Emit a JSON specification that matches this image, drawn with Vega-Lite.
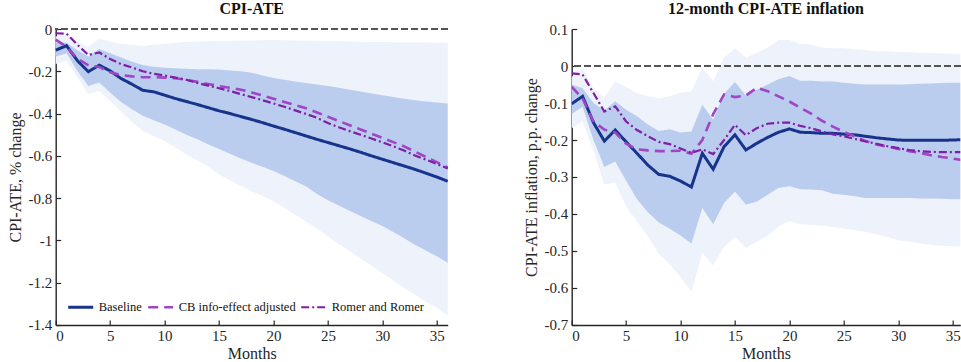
{
  "$schema": "https://vega.github.io/schema/vega-lite/v6.json",
  "background": "white",
  "padding": {"left": 7.7, "top": 1, "right": 0, "bottom": 0},
  "spacing": 70,
  "config": {
    "view": {"stroke": null},
    "font": "Liberation Serif",
    "title": {"font": "Liberation Serif", "fontSize": 16, "fontWeight": "bold", "color": "#111111", "offset": 5},
    "axis": {
      "grid": false,
      "domainColor": "#262626", "domainWidth": 1.4,
      "tickColor": "#262626", "tickWidth": 1.2, "tickSize": -5,
      "labelFont": "Liberation Serif", "labelFontSize": 15, "labelColor": "#262626", "labelPadding": 9, "labelOverlap": false,
      "titleFont": "Liberation Serif", "titleFontSize": 16, "titleFontWeight": "normal", "titleColor": "#262626"
    }
  },
  "resolve": {"scale": {"color": "independent", "strokeDash": "independent", "strokeWidth": "independent"}},
  "datasets": {
    "left": [
      {"m":0,"base":-0.10,"cb":-0.05,"rr":-0.02,"lo68":-0.13,"hi68":-0.06,"lo90":-0.165,"hi90":-0.035},
      {"m":1,"base":-0.079,"cb":-0.085,"rr":-0.022,"lo68":-0.115,"hi68":-0.065,"lo90":-0.15,"hi90":-0.03},
      {"m":2,"base":-0.15,"cb":-0.14,"rr":-0.075,"lo68":-0.2,"hi68":-0.1,"lo90":-0.23,"hi90":-0.06},
      {"m":3,"base":-0.202,"cb":-0.172,"rr":-0.123,"lo68":-0.27,"hi68":-0.13,"lo90":-0.308,"hi90":-0.085},
      {"m":4,"base":-0.171,"cb":-0.18,"rr":-0.111,"lo68":-0.253,"hi68":-0.095,"lo90":-0.293,"hi90":-0.045},
      {"m":5,"base":-0.198,"cb":-0.205,"rr":-0.142,"lo68":-0.3,"hi68":-0.115,"lo90":-0.34,"hi90":-0.06},
      {"m":6,"base":-0.234,"cb":-0.218,"rr":-0.166,"lo68":-0.345,"hi68":-0.135,"lo90":-0.39,"hi90":-0.07},
      {"m":7,"base":-0.261,"cb":-0.224,"rr":-0.182,"lo68":-0.38,"hi68":-0.155,"lo90":-0.44,"hi90":-0.075},
      {"m":8,"base":-0.29,"cb":-0.228,"rr":-0.2,"lo68":-0.41,"hi68":-0.17,"lo90":-0.483,"hi90":-0.08},
      {"m":9,"base":-0.297,"cb":-0.228,"rr":-0.212,"lo68":-0.432,"hi68":-0.178,"lo90":-0.507,"hi90":-0.075},
      {"m":10,"base":-0.313,"cb":-0.23,"rr":-0.22,"lo68":-0.452,"hi68":-0.183,"lo90":-0.53,"hi90":-0.07},
      {"m":11,"base":-0.329,"cb":-0.233,"rr":-0.23,"lo68":-0.475,"hi68":-0.186,"lo90":-0.56,"hi90":-0.065},
      {"m":12,"base":-0.343,"cb":-0.24,"rr":-0.24,"lo68":-0.5,"hi68":-0.188,"lo90":-0.595,"hi90":-0.062},
      {"m":13,"base":-0.357,"cb":-0.25,"rr":-0.255,"lo68":-0.522,"hi68":-0.19,"lo90":-0.622,"hi90":-0.06},
      {"m":14,"base":-0.372,"cb":-0.26,"rr":-0.268,"lo68":-0.545,"hi68":-0.19,"lo90":-0.65,"hi90":-0.058},
      {"m":15,"base":-0.387,"cb":-0.27,"rr":-0.28,"lo68":-0.567,"hi68":-0.192,"lo90":-0.688,"hi90":-0.057},
      {"m":16,"base":-0.4,"cb":-0.278,"rr":-0.293,"lo68":-0.59,"hi68":-0.196,"lo90":-0.715,"hi90":-0.056},
      {"m":17,"base":-0.414,"cb":-0.287,"rr":-0.308,"lo68":-0.612,"hi68":-0.2,"lo90":-0.742,"hi90":-0.055},
      {"m":18,"base":-0.428,"cb":-0.3,"rr":-0.322,"lo68":-0.633,"hi68":-0.207,"lo90":-0.767,"hi90":-0.054},
      {"m":19,"base":-0.443,"cb":-0.315,"rr":-0.337,"lo68":-0.652,"hi68":-0.22,"lo90":-0.79,"hi90":-0.053},
      {"m":20,"base":-0.459,"cb":-0.33,"rr":-0.352,"lo68":-0.672,"hi68":-0.232,"lo90":-0.815,"hi90":-0.052},
      {"m":21,"base":-0.474,"cb":-0.345,"rr":-0.368,"lo68":-0.695,"hi68":-0.24,"lo90":-0.845,"hi90":-0.053},
      {"m":22,"base":-0.49,"cb":-0.36,"rr":-0.385,"lo68":-0.72,"hi68":-0.248,"lo90":-0.878,"hi90":-0.054},
      {"m":23,"base":-0.506,"cb":-0.375,"rr":-0.402,"lo68":-0.745,"hi68":-0.255,"lo90":-0.91,"hi90":-0.055},
      {"m":24,"base":-0.522,"cb":-0.395,"rr":-0.42,"lo68":-0.78,"hi68":-0.262,"lo90":-0.945,"hi90":-0.056},
      {"m":25,"base":-0.537,"cb":-0.415,"rr":-0.445,"lo68":-0.81,"hi68":-0.27,"lo90":-0.98,"hi90":-0.057},
      {"m":26,"base":-0.552,"cb":-0.435,"rr":-0.465,"lo68":-0.835,"hi68":-0.278,"lo90":-1.018,"hi90":-0.058},
      {"m":27,"base":-0.567,"cb":-0.455,"rr":-0.483,"lo68":-0.86,"hi68":-0.287,"lo90":-1.05,"hi90":-0.059},
      {"m":28,"base":-0.583,"cb":-0.475,"rr":-0.5,"lo68":-0.884,"hi68":-0.296,"lo90":-1.085,"hi90":-0.06},
      {"m":29,"base":-0.6,"cb":-0.495,"rr":-0.518,"lo68":-0.908,"hi68":-0.305,"lo90":-1.12,"hi90":-0.061},
      {"m":30,"base":-0.616,"cb":-0.515,"rr":-0.536,"lo68":-0.932,"hi68":-0.313,"lo90":-1.155,"hi90":-0.062},
      {"m":31,"base":-0.632,"cb":-0.535,"rr":-0.555,"lo68":-0.96,"hi68":-0.322,"lo90":-1.19,"hi90":-0.063},
      {"m":32,"base":-0.648,"cb":-0.555,"rr":-0.575,"lo68":-0.99,"hi68":-0.33,"lo90":-1.225,"hi90":-0.063},
      {"m":33,"base":-0.664,"cb":-0.58,"rr":-0.598,"lo68":-1.02,"hi68":-0.337,"lo90":-1.258,"hi90":-0.064},
      {"m":34,"base":-0.682,"cb":-0.605,"rr":-0.618,"lo68":-1.048,"hi68":-0.343,"lo90":-1.29,"hi90":-0.064},
      {"m":35,"base":-0.7,"cb":-0.63,"rr":-0.638,"lo68":-1.075,"hi68":-0.348,"lo90":-1.32,"hi90":-0.065},
      {"m":36,"base":-0.72,"cb":-0.655,"rr":-0.66,"lo68":-1.105,"hi68":-0.352,"lo90":-1.355,"hi90":-0.065}
    ],
    "right": [
      {"m":0,"base":-0.102,"cb":-0.056,"rr":-0.02,"lo68":-0.13,"hi68":-0.05,"lo90":-0.168,"hi90":-0.03},
      {"m":1,"base":-0.082,"cb":-0.088,"rr":-0.023,"lo68":-0.11,"hi68":-0.06,"lo90":-0.15,"hi90":-0.005},
      {"m":2,"base":-0.153,"cb":-0.15,"rr":-0.073,"lo68":-0.2,"hi68":-0.1,"lo90":-0.23,"hi90":-0.06},
      {"m":3,"base":-0.203,"cb":-0.172,"rr":-0.123,"lo68":-0.273,"hi68":-0.12,"lo90":-0.32,"hi90":-0.085},
      {"m":4,"base":-0.173,"cb":-0.18,"rr":-0.109,"lo68":-0.258,"hi68":-0.095,"lo90":-0.315,"hi90":-0.042},
      {"m":5,"base":-0.205,"cb":-0.21,"rr":-0.15,"lo68":-0.31,"hi68":-0.118,"lo90":-0.38,"hi90":-0.057},
      {"m":6,"base":-0.236,"cb":-0.225,"rr":-0.173,"lo68":-0.36,"hi68":-0.136,"lo90":-0.42,"hi90":-0.073},
      {"m":7,"base":-0.268,"cb":-0.228,"rr":-0.19,"lo68":-0.395,"hi68":-0.158,"lo90":-0.46,"hi90":-0.082},
      {"m":8,"base":-0.293,"cb":-0.23,"rr":-0.205,"lo68":-0.423,"hi68":-0.176,"lo90":-0.508,"hi90":-0.088},
      {"m":9,"base":-0.298,"cb":-0.23,"rr":-0.211,"lo68":-0.44,"hi68":-0.171,"lo90":-0.535,"hi90":-0.082},
      {"m":10,"base":-0.311,"cb":-0.229,"rr":-0.223,"lo68":-0.458,"hi68":-0.18,"lo90":-0.571,"hi90":-0.072},
      {"m":11,"base":-0.327,"cb":-0.237,"rr":-0.235,"lo68":-0.48,"hi68":-0.177,"lo90":-0.61,"hi90":-0.068},
      {"m":12,"base":-0.236,"cb":-0.2,"rr":-0.225,"lo68":-0.384,"hi68":-0.105,"lo90":-0.505,"hi90":-0.004},
      {"m":13,"base":-0.279,"cb":-0.13,"rr":-0.238,"lo68":-0.428,"hi68":-0.145,"lo90":-0.539,"hi90":-0.041},
      {"m":14,"base":-0.218,"cb":-0.077,"rr":-0.2,"lo68":-0.37,"hi68":-0.075,"lo90":-0.489,"hi90":0.023},
      {"m":15,"base":-0.186,"cb":-0.084,"rr":-0.159,"lo68":-0.339,"hi68":-0.043,"lo90":-0.462,"hi90":0.048},
      {"m":16,"base":-0.227,"cb":-0.08,"rr":-0.187,"lo68":-0.374,"hi68":-0.08,"lo90":-0.492,"hi90":0.023},
      {"m":17,"base":-0.209,"cb":-0.059,"rr":-0.168,"lo68":-0.367,"hi68":-0.064,"lo90":-0.475,"hi90":0.035},
      {"m":18,"base":-0.193,"cb":-0.068,"rr":-0.156,"lo68":-0.348,"hi68":-0.05,"lo90":-0.459,"hi90":0.05},
      {"m":19,"base":-0.179,"cb":-0.082,"rr":-0.153,"lo68":-0.33,"hi68":-0.036,"lo90":-0.434,"hi90":0.07},
      {"m":20,"base":-0.17,"cb":-0.096,"rr":-0.153,"lo68":-0.325,"hi68":-0.027,"lo90":-0.419,"hi90":0.07},
      {"m":21,"base":-0.179,"cb":-0.113,"rr":-0.162,"lo68":-0.333,"hi68":-0.04,"lo90":-0.428,"hi90":0.06},
      {"m":22,"base":-0.18,"cb":-0.129,"rr":-0.168,"lo68":-0.334,"hi68":-0.04,"lo90":-0.43,"hi90":0.058},
      {"m":23,"base":-0.182,"cb":-0.148,"rr":-0.177,"lo68":-0.336,"hi68":-0.042,"lo90":-0.432,"hi90":0.05},
      {"m":24,"base":-0.182,"cb":-0.164,"rr":-0.185,"lo68":-0.345,"hi68":-0.042,"lo90":-0.435,"hi90":0.048},
      {"m":25,"base":-0.184,"cb":-0.178,"rr":-0.19,"lo68":-0.348,"hi68":-0.045,"lo90":-0.439,"hi90":0.048},
      {"m":26,"base":-0.186,"cb":-0.19,"rr":-0.197,"lo68":-0.352,"hi68":-0.048,"lo90":-0.443,"hi90":0.045},
      {"m":27,"base":-0.19,"cb":-0.203,"rr":-0.204,"lo68":-0.357,"hi68":-0.05,"lo90":-0.448,"hi90":0.043},
      {"m":28,"base":-0.194,"cb":-0.212,"rr":-0.21,"lo68":-0.357,"hi68":-0.05,"lo90":-0.455,"hi90":0.04},
      {"m":29,"base":-0.197,"cb":-0.218,"rr":-0.217,"lo68":-0.357,"hi68":-0.05,"lo90":-0.462,"hi90":0.04},
      {"m":30,"base":-0.2,"cb":-0.224,"rr":-0.222,"lo68":-0.357,"hi68":-0.05,"lo90":-0.471,"hi90":0.038},
      {"m":31,"base":-0.201,"cb":-0.23,"rr":-0.227,"lo68":-0.357,"hi68":-0.049,"lo90":-0.475,"hi90":0.037},
      {"m":32,"base":-0.201,"cb":-0.235,"rr":-0.23,"lo68":-0.358,"hi68":-0.048,"lo90":-0.479,"hi90":0.036},
      {"m":33,"base":-0.201,"cb":-0.241,"rr":-0.232,"lo68":-0.358,"hi68":-0.047,"lo90":-0.484,"hi90":0.035},
      {"m":34,"base":-0.201,"cb":-0.246,"rr":-0.233,"lo68":-0.359,"hi68":-0.046,"lo90":-0.486,"hi90":0.034},
      {"m":35,"base":-0.2,"cb":-0.25,"rr":-0.233,"lo68":-0.36,"hi68":-0.045,"lo90":-0.487,"hi90":0.033},
      {"m":36,"base":-0.199,"cb":-0.255,"rr":-0.233,"lo68":-0.36,"hi68":-0.045,"lo90":-0.488,"hi90":0.032}
    ]
  },
  "hconcat": [
    {
      "width": 392, "height": 296,
      "title": {"text": "CPI-ATE"},
      "data": {"name": "left"},
      "layer": [
        {
          "mark": {"type": "area", "color": "#edf2fb", "opacity": 1},
          "encoding": {
            "x": {"field": "m", "type": "quantitative", "scale": {"domain": [0, 36], "nice": false},
                  "axis": {"title": "Months", "values": [0,5,10,15,20,25,30,35], "tickCount": 10, "labelAngle": 0, "titlePadding": 2}},
            "y": {"field": "lo90", "type": "quantitative", "scale": {"domain": [-1.4, 0], "nice": false},
                  "axis": {"title": "CPI-ATE, % change", "values": [-1.4,-1.2,-1,-0.8,-0.6,-0.4,-0.2,0], "tickCount": 10, "labelExpr": "'' + datum.value", "labelOverlap": false, "titlePadding": 4}},
            "y2": {"field": "hi90"}
          }
        },
        {
          "mark": {"type": "area", "color": "#bacdee", "opacity": 1},
          "encoding": {
            "x": {"field": "m", "type": "quantitative"},
            "y": {"field": "lo68", "type": "quantitative"},
            "y2": {"field": "hi68"}
          }
        },
        {
          "mark": {"type": "rule", "color": "#555555", "strokeDash": [6, 4], "strokeWidth": 1.5},
          "encoding": {"y": {"datum": 0}}
        },
        {
          "transform": [{"fold": ["base", "cb", "rr"], "as": ["s", "v"]}],
          "mark": {"type": "line"},
          "encoding": {
            "x": {"field": "m", "type": "quantitative"},
            "y": {"field": "v", "type": "quantitative"},
            "color": {"field": "s", "type": "nominal",
              "scale": {"domain": ["base", "cb", "rr"], "range": ["#17338c", "#a046c4", "#7e1fa6"]},
              "legend": {"title": null, "orient": "bottom-left", "direction": "horizontal", "offset": 11, "padding": 0,
                "symbolType": "stroke", "symbolSize": 625, "symbolStrokeWidth": 2.5,
                "labelFont": "Liberation Serif", "labelFontSize": 12.5, "labelColor": "#111111", "labelOffset": 4, "columnPadding": 0,
                "labelExpr": "datum.label == 'base' ? 'Baseline' : datum.label == 'cb' ? 'CB info-effect adjusted' : 'Romer and Romer'"}},
            "strokeDash": {"field": "s", "type": "nominal",
              "scale": {"domain": ["base", "cb", "rr"], "range": [[1, 0], [10, 6], [8, 3, 2, 3]]}},
            "strokeWidth": {"field": "s", "type": "nominal",
              "scale": {"domain": ["base", "cb", "rr"], "range": [3, 2.2, 2.2]}}
          }
        }
      ]
    },
    {
      "width": 388.6, "height": 296,
      "title": {"text": "12-month CPI-ATE inflation"},
      "data": {"name": "right"},
      "layer": [
        {
          "mark": {"type": "area", "color": "#edf2fb", "opacity": 1, "clip": true},
          "encoding": {
            "x": {"field": "m", "type": "quantitative", "scale": {"domain": [0, 35.7], "nice": false},
                  "axis": {"title": "Months", "values": [0,5,10,15,20,25,30,35], "tickCount": 10, "labelAngle": 0, "titlePadding": 2}},
            "y": {"field": "lo90", "type": "quantitative", "scale": {"domain": [-0.7, 0.1], "nice": false},
                  "axis": {"title": "CPI-ATE inflation, p.p. change", "values": [-0.7,-0.6,-0.5,-0.4,-0.3,-0.2,-0.1,0,0.1], "tickCount": 12, "labelExpr": "'' + datum.value", "labelOverlap": false, "titlePadding": 4}},
            "y2": {"field": "hi90"}
          }
        },
        {
          "mark": {"type": "area", "color": "#bacdee", "opacity": 1, "clip": true},
          "encoding": {
            "x": {"field": "m", "type": "quantitative"},
            "y": {"field": "lo68", "type": "quantitative"},
            "y2": {"field": "hi68"}
          }
        },
        {
          "mark": {"type": "rule", "color": "#555555", "strokeDash": [6, 4], "strokeWidth": 1.5},
          "encoding": {"y": {"datum": 0}}
        },
        {
          "transform": [{"fold": ["base", "cb", "rr"], "as": ["s", "v"]}],
          "mark": {"type": "line", "clip": true},
          "encoding": {
            "x": {"field": "m", "type": "quantitative"},
            "y": {"field": "v", "type": "quantitative"},
            "color": {"field": "s", "type": "nominal", "legend": null,
              "scale": {"domain": ["base", "cb", "rr"], "range": ["#17338c", "#a046c4", "#7e1fa6"]}},
            "strokeDash": {"field": "s", "type": "nominal", "legend": null,
              "scale": {"domain": ["base", "cb", "rr"], "range": [[1, 0], [10, 6], [8, 3, 2, 3]]}},
            "strokeWidth": {"field": "s", "type": "nominal", "legend": null,
              "scale": {"domain": ["base", "cb", "rr"], "range": [3, 2.2, 2.2]}}
          }
        }
      ]
    }
  ]
}
